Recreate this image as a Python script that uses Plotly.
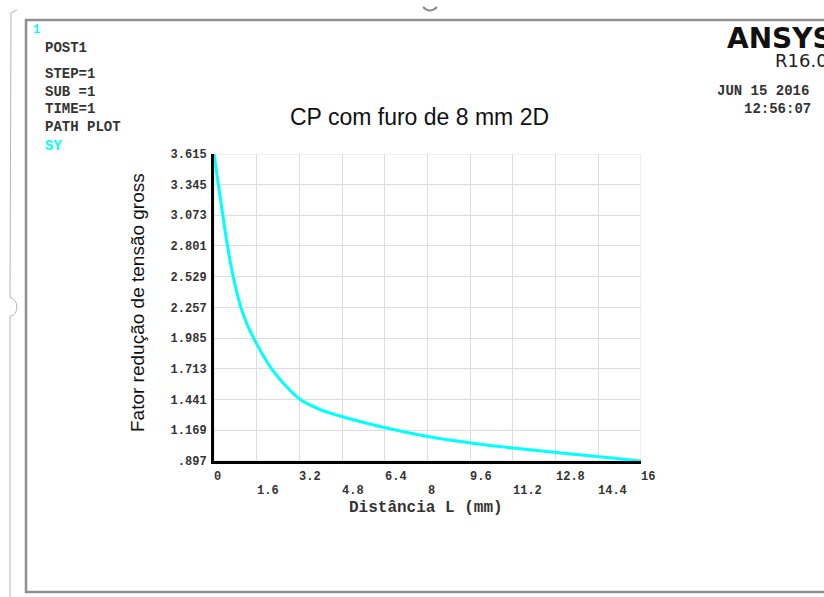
import plotly.graph_objects as go

# ---------------- data ----------------
distance_mm = [0, 0.08, 0.16, 0.33, 0.51, 0.72, 1.0, 1.24, 1.47, 1.8, 2.16,
               2.66, 3.22, 3.97, 4.72, 5.47, 6.47, 8.07, 9.69, 11.28, 12.9,
               14.53, 16.0]
stress_factor = [3.615, 3.482, 3.349, 3.075, 2.794, 2.529, 2.263, 2.107,
                 1.992, 1.849, 1.712, 1.570, 1.443, 1.353, 1.295, 1.247,
                 1.189, 1.111, 1.054, 1.009, 0.971, 0.933, 0.897]

x_tick_vals = [0, 1.6, 3.2, 4.8, 6.4, 8, 9.6, 11.2, 12.8, 14.4, 16]
x_tick_text = ["0", "1.6", "3.2", "4.8", "6.4", "8", "9.6", "11.2", "12.8",
               "14.4", "16"]
y_tick_vals = [0.897, 1.169, 1.441, 1.713, 1.985, 2.257, 2.529, 2.801, 3.073,
               3.345, 3.615]
y_tick_text = [".897", "1.169", "1.441", "1.713", "1.985", "2.257", "2.529",
               "2.801", "3.073", "3.345", "3.615"]

info_lines = ["POST1", "STEP=1", "SUB =1", "TIME=1", "PATH PLOT"]

# ---------------- layout helpers ----------------
W, H = 824, 597
L, R, T, B = 214, 641, 154, 461


def px(x):
    return (x - L) / (R - L)


def py(y):
    return (B - y) / (B - T)


MONO = "Liberation Mono, Courier New, monospace"
SANS = "Liberation Sans, Arial, sans-serif"
CYAN = "#00FFFF"
TXT = "#333333"

fig = go.Figure()
fig.add_trace(go.Scatter(
    x=distance_mm, y=stress_factor, mode="lines",
    line=dict(color=CYAN, width=3, shape="spline", smoothing=1.0),
    hoverinfo="skip", showlegend=False))

annotations = []

# x tick labels, two alternating rows, left-aligned at the tick
for i, (v, t) in enumerate(zip(x_tick_vals, x_tick_text)):
    row_y = 477 if i % 2 == 0 else 491
    annotations.append(dict(
        x=v, xref="x", y=py(row_y), yref="paper", text=t, showarrow=False,
        xanchor="left", yanchor="middle", xshift=-2,
        font=dict(family=MONO, size=12, color=TXT, weight="bold")))

# left info block
info_y = [48, 74, 92, 109, 127]
for t, yy in zip(info_lines, info_y):
    annotations.append(dict(
        x=px(43), xref="paper", y=py(yy), yref="paper", text=t,
        showarrow=False, xanchor="left", yanchor="middle",
        font=dict(family=MONO, size=14, color=TXT, weight="bold")))
annotations.append(dict(
    x=px(43), xref="paper", y=py(146), yref="paper", text="SY",
    showarrow=False, xanchor="left", yanchor="middle",
    font=dict(family=MONO, size=14, color=CYAN, weight="bold")))
annotations.append(dict(
    x=px(31), xref="paper", y=py(30), yref="paper", text="1",
    showarrow=False, xanchor="left", yanchor="middle",
    font=dict(family=MONO, size=12, color=CYAN, weight="bold")))

# right info block
annotations += [
    dict(x=px(725), xref="paper", y=py(38), yref="paper", text="ANSYS",
         showarrow=False, xanchor="left", yanchor="middle",
         font=dict(family="DejaVu Sans", size=28, color="#111111",
                   weight="bold")),
    dict(x=px(773), xref="paper", y=py(60), yref="paper", text="R16.0",
         showarrow=False, xanchor="left", yanchor="middle",
         font=dict(family="DejaVu Sans", size=18, color="#222222")),
    dict(x=px(715), xref="paper", y=py(91), yref="paper", text="JUN 15 2016",
         showarrow=False, xanchor="left", yanchor="middle",
         font=dict(family=MONO, size=14, color=TXT, weight="bold")),
    dict(x=px(742), xref="paper", y=py(109), yref="paper", text="12:56:07",
         showarrow=False, xanchor="left", yanchor="middle",
         font=dict(family=MONO, size=14, color=TXT, weight="bold")),
]

# title and axis titles
annotations += [
    dict(x=px(419), xref="paper", y=py(117), yref="paper",
         text="CP com furo de 8 mm 2D", showarrow=False,
         xanchor="center", yanchor="middle",
         font=dict(family=SANS, size=23, color="#111111")),
    dict(x=px(137), xref="paper", y=py(303), yref="paper",
         text="Fator redução de tensão gross", showarrow=False,
         textangle=-90, xanchor="center", yanchor="middle",
         font=dict(family=SANS, size=19, color="#111111")),
    dict(x=px(426), xref="paper", y=py(508), yref="paper",
         text="Distância L (mm)", showarrow=False,
         xanchor="center", yanchor="middle",
         font=dict(family=MONO, size=16, color=TXT, weight="bold")),
]


def path(points, cmd):
    return cmd.format(*[v for p in points for v in (px(p[0]), py(p[1]))])


shapes = [
    # light grid border (top / right)
    dict(type="rect", xref="x", yref="y", x0=0, x1=16, y0=0.897, y1=3.615,
         line=dict(color="#dcdcdc", width=1), layer="below"),
    # main window frame
    dict(type="rect", xref="paper", yref="paper", x0=px(26), x1=px(860),
         y0=py(592), y1=py(20), line=dict(color="#8f8f8f", width=2.5)),
    # outer thin line with bump
    dict(type="path", xref="paper", yref="paper",
         path=path([(17, 10), (11, 13), (10, 298), (19, 298), (19, 316),
                    (10, 316), (10, 600)],
                   "M {0},{1} L {2},{3} L {4},{5} C {6},{7} {8},{9} {10},{11} L {12},{13}"),
         line=dict(color="#b5b5b5", width=1)),
    # small arc at top
    dict(type="path", xref="paper", yref="paper",
         path=path([(423, 7), (430, 14), (437, 7)],
                   "M {0},{1} Q {2},{3} {4},{5}"),
         line=dict(color="#8a8a8a", width=2)),
]

fig.update_layout(
    width=W, height=H,
    margin=dict(l=L, r=W - R, t=T, b=H - B, pad=0),
    paper_bgcolor="white", plot_bgcolor="white",
    showlegend=False,
    annotations=annotations,
    shapes=shapes,
    xaxis=dict(range=[0, 16], tickvals=x_tick_vals, showticklabels=False,
               showgrid=True, gridcolor="#dcdcdc", gridwidth=1,
               zeroline=False, showline=True, linecolor="black",
               linewidth=3, layer="below traces", fixedrange=True),
    yaxis=dict(range=[0.897, 3.615], tickvals=y_tick_vals,
               ticktext=y_tick_text, showgrid=True, gridcolor="#dcdcdc",
               gridwidth=1, zeroline=False, showline=True,
               linecolor="black", linewidth=3, layer="below traces",
               ticks="", ticklabelstandoff=2,
               tickfont=dict(family=MONO, size=12, color=TXT,
                             weight="bold"), fixedrange=True),
)

fig.write_html("out.html")
